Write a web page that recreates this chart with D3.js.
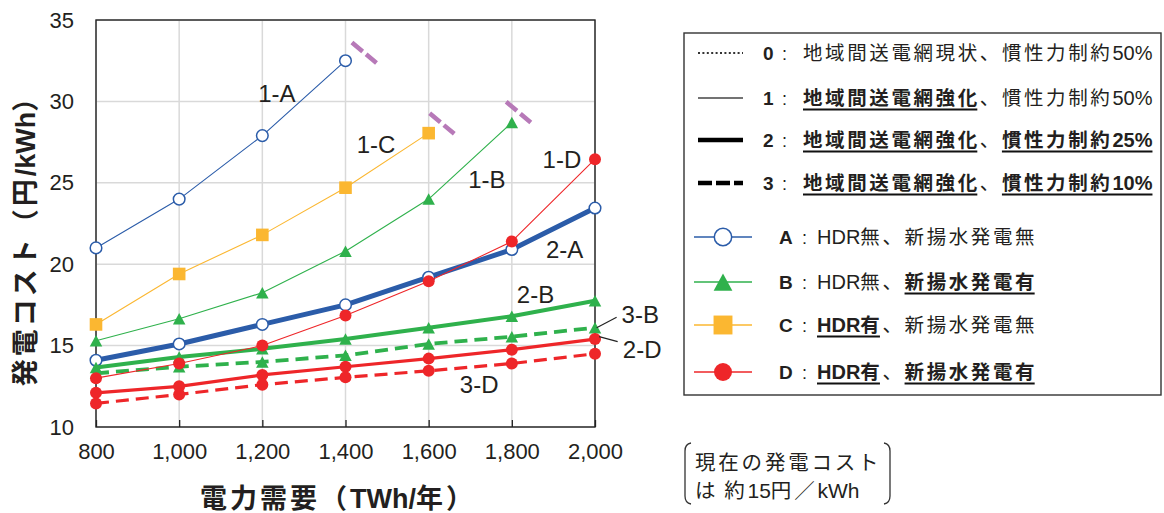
<!DOCTYPE html>
<html><head><meta charset="utf-8">
<script src="https://cdn.jsdelivr.net/npm/d3@7/dist/d3.min.js"></script>
<style>body{margin:0;background:#fff;overflow:hidden}</style>
</head><body><svg id="c" width="1164" height="513"></svg>
<script>
// ---------- data ----------
const demand = [800, 1000, 1200, 1400, 1600, 1800, 2000];
const cost1A = [21.0, 24.0, 27.9, 32.5];
const cost1B = [15.3, 16.65, 18.25, 20.8, 24.0, 28.7];
const cost1C = [16.3, 19.4, 21.8, 24.7, 28.05];
const cost1D = [13.0, 13.9, 15.0, 16.85, 18.95, 21.4, 26.45];
const cost2A = [14.1, 15.1, 16.3, 17.5, 19.2, 20.9, 23.45];
const cost2B = [13.65, 14.3, 14.8, 15.4, 16.1, 16.8, 17.75];
const cost3B = [13.3, 13.7, 14.0, 14.4, 15.1, 15.55, 16.1];
const cost2D = [12.1, 12.5, 13.2, 13.7, 14.2, 14.75, 15.4];
const cost3D = [11.45, 12.0, 12.6, 13.05, 13.45, 13.9, 14.5];
const xTicks = [800, 1000, 1200, 1400, 1600, 1800, 2000];
const yTicks = [10, 15, 20, 25, 30, 35];
const seriesLabels = ['1-A','1-B','1-C','1-D','2-A','2-B','3-B','2-D','3-D'];
// label anchor positions (data units)
const labelX = [1190, 1695, 1427, 1874, 1882, 1812, 2064, 2067, 1675];
const labelY = [29.96, 24.66, 26.81, 25.89, 20.36, 17.64, 16.37, 14.22, 12.11];
// break marks (data units) after truncated series
const breakX = [1445, 1632, 1816];
const breakY = [32.99, 28.64, 29.34];
const legendKeys1 = ['0','1','2','3'];
const legendParts1 = [
  [['地域間送電網現状、慣性力制約50%',0]],
  [['地域間送電網強化',1],['、慣性力制約50%',0]],
  [['地域間送電網強化',1],['、',0],['慣性力制約25%',1]],
  [['地域間送電網強化',1],['、',0],['慣性力制約10%',1]]
];
const legendKeys2 = ['A','B','C','D'];
const legendParts2 = [
  [['HDR無、新揚水発電無',0]],
  [['HDR無、',0],['新揚水発電有',1]],
  [['HDR有',1],['、新揚水発電無',0]],
  [['HDR有',1],['、',0],['新揚水発電有',1]]
];
const noteLines = ['現在の発電コスト', 'は 約15円／kWh'];
const xTitle = '電力需要（TWh/年）';
const yTitle = '発電コスト（円/kWh）';

// ---------- styles ----------
const C = {blue:'#2b5ca9', green:'#2fb14c', orange:'#fbb731', red:'#ee2629', purple:'#b779b8', text:'#231f20'};
const FONT = '"Liberation Sans", Arial, "Noto Sans CJK JP", sans-serif';
const series = [
  {vals:cost2A, color:C.blue,  w:5,   dash:null,  mk:'open'},
  {vals:cost2B, color:C.green, w:4,   dash:null,  mk:'tri'},
  {vals:cost3B, color:C.green, w:3.8, dash:'13 7', mk:'tri'},
  {vals:cost2D, color:C.red,   w:3.2, dash:null,  mk:'dot'},
  {vals:cost3D, color:C.red,   w:3.2, dash:'13 7', mk:'dot'},
  {vals:cost1A, color:C.blue,  w:1.1, dash:null,  mk:'open'},
  {vals:cost1C, color:C.orange,w:1.1, dash:null,  mk:'sq'},
  {vals:cost1B, color:C.green, w:1.1, dash:null,  mk:'tri'},
  {vals:cost1D, color:C.red,   w:1.1, dash:null,  mk:'dot'}
];

const svg = d3.select('#c').style('font-family', FONT);
const x = d3.scaleLinear().domain([800, 2000]).range([96, 595]);
const y = d3.scaleLinear().domain([10, 35]).range([427, 20]);

// mixed text: ASCII runs tight, CJK runs letter-spaced
function mixed(textSel, str, latinSize, cjkSize, ls) {
  const runs = str.match(/[\x20-\x7E]+|[^\x20-\x7E]+/g) || [];
  runs.forEach(r => {
    const ascii = /^[\x20-\x7E]+$/.test(r);
    textSel.append('tspan').attr('font-size', ascii ? latinSize : cjkSize)
      .style('letter-spacing', ascii ? '0px' : ls + 'px').text(r);
  });
  return textSel;
}

// gridlines
svg.append('g').selectAll('line').data(yTicks).join('line')
  .attr('x1', 96).attr('x2', 595).attr('y1', d => y(d)).attr('y2', d => y(d))
  .attr('stroke', '#d9d9d9').attr('stroke-width', 1.5);
svg.append('g').selectAll('line').data(xTicks).join('line')
  .attr('y1', 20).attr('y2', 427).attr('x1', d => x(d)).attr('x2', d => x(d))
  .attr('stroke', '#d9d9d9').attr('stroke-width', 1.5);

// axes
const xAxis = d3.axisBottom(x).tickValues(xTicks).tickSizeInner(-7).tickSizeOuter(0).tickPadding(16)
  .tickFormat(d3.format(','));
const gx = svg.append('g').attr('transform', 'translate(0,427)').call(xAxis);
gx.selectAll('text').attr('font-size', 22).attr('fill', C.text).attr('font-family', FONT).attr('dy', '0.72em');
gx.selectAll('line').attr('stroke', '#222').attr('stroke-width', 1.3);
gx.select('.domain').remove();
const yAxis = d3.axisLeft(y).tickValues(yTicks).tickSize(0).tickPadding(22);
const gy = svg.append('g').attr('transform', 'translate(96,0)').call(yAxis);
gy.selectAll('text').attr('font-size', 22).attr('fill', C.text).attr('font-family', FONT);
gy.select('.domain').remove();

// box
svg.append('rect').attr('x', 96).attr('y', 20).attr('width', 499).attr('height', 407)
  .attr('fill', 'none').attr('stroke', '#222').attr('stroke-width', 1.4);

// series
const line = d3.line().x((d, i) => x(demand[i])).y(d => y(d));
function marker(g, mk, color, cx, cy, s) {
  if (mk === 'open') g.append('circle').attr('cx', cx).attr('cy', cy).attr('r', 5.8*s)
    .attr('fill', '#fff').attr('stroke', color).attr('stroke-width', 1.5);
  else if (mk === 'dot') g.append('circle').attr('cx', cx).attr('cy', cy).attr('r', 6*s).attr('fill', color);
  else if (mk === 'sq') g.append('rect').attr('x', cx - 6.3*s).attr('y', cy - 6.3*s)
    .attr('width', 12.6*s).attr('height', 12.6*s).attr('fill', color);
  else if (mk === 'tri') {
    const w = 12.5*s, h = 11.5*s;
    g.append('path').attr('d', `M${cx},${cy - h/2}L${cx + w/2},${cy + h/2}L${cx - w/2},${cy + h/2}Z`).attr('fill', color);
  }
}
series.forEach(s => {
  const g = svg.append('g');
  g.append('path').datum(s.vals).attr('d', line).attr('fill', 'none')
    .attr('stroke', s.color).attr('stroke-width', s.w)
    .attr('stroke-dasharray', s.dash).attr('stroke-linejoin', 'round');
  s.vals.forEach((v, i) => marker(g, s.mk, s.color, x(demand[i]), y(v), 1));
});

// break marks
breakX.forEach((bx, i) => {
  const cx = x(bx), cy = y(breakY[i]);
  svg.append('line').attr('x1', cx - 12.3).attr('y1', cy - 10.3).attr('x2', cx + 12.3).attr('y2', cy + 10.3)
    .attr('stroke', C.purple).attr('stroke-width', 4.5).attr('stroke-dasharray', '14 4.5');
});

// series labels
seriesLabels.forEach((t, i) => {
  svg.append('text').attr('x', x(labelX[i])).attr('y', y(labelY[i])).text(t)
    .attr('font-size', 24).attr('fill', C.text);
});
// leader lines
svg.append('line').attr('x1', x(2004)).attr('y1', y(16.1)).attr('x2', x(2052)).attr('y2', y(16.74))
  .attr('stroke', '#222').attr('stroke-width', 1.2);
svg.append('line').attr('x1', x(2010)).attr('y1', y(15.55)).attr('x2', x(2054.5)).attr('y2', y(15.24))
  .attr('stroke', '#222').attr('stroke-width', 1.2);

// axis titles
mixed(svg.append('text').attr('transform', 'translate(35,234) rotate(-90)').attr('text-anchor', 'middle')
  .attr('font-weight', 700).attr('fill', C.text), yTitle, 27, 27, 3);
mixed(svg.append('text').attr('x', 338).attr('y', 508).attr('text-anchor', 'middle')
  .attr('font-weight', 700).attr('fill', C.text), xTitle, 27, 27, 3);

// legend
const lg = svg.append('g');
lg.append('rect').attr('x', 684).attr('y', 33).attr('width', 477).attr('height', 362)
  .attr('fill', '#fff').attr('stroke', '#333').attr('stroke-width', 1.4);
function legendRow(keyTxt, keyX, colonX, textX, yb, parts) {
  lg.append('text').attr('x', keyX).attr('y', yb).attr('font-size', 19).attr('font-weight', 700)
    .attr('fill', C.text).text(keyTxt);
  lg.append('text').attr('x', colonX).attr('y', yb).attr('font-size', 18).attr('fill', C.text).text(':');
  let cx = textX;
  parts.forEach(([t, b]) => {
    const el = mixed(lg.append('text').attr('x', cx).attr('y', yb)
      .attr('font-weight', b ? 700 : 400).attr('fill', C.text), t, 20, 19.5, 2.6);
    const len = el.node().getComputedTextLength();
    const endsCjk = /[^\x20-\x7E]$/.test(t);
    if (b) lg.append('line').attr('x1', cx).attr('x2', cx + len - (endsCjk ? 2.5 : 0)).attr('y1', yb + 4.5).attr('y2', yb + 4.5)
      .attr('stroke', '#111').attr('stroke-width', 2);
    cx += len;
  });
}
const rowY1 = [53, 98, 140, 183];
const lineSamples = [
  {w:2, dash:'2 2.4', color:'#333'},
  {w:1.3, dash:null, color:'#444'},
  {w:4.6, dash:null, color:'#000'},
  {w:4.6, dash:'14 4', color:'#000'}
];
legendKeys1.forEach((k, i) => {
  const ls = lineSamples[i];
  lg.append('line').attr('x1', 698).attr('x2', 743).attr('y1', rowY1[i]).attr('y2', rowY1[i])
    .attr('stroke', ls.color).attr('stroke-width', ls.w).attr('stroke-dasharray', ls.dash);
  legendRow(k, 763, 782, 803, rowY1[i] + 7, legendParts1[i]);
});
const rowY2 = [237, 282, 325, 372];
const legendMk = [series[5], series[7], series[6], series[8]];
legendKeys2.forEach((k, i) => {
  const s = legendMk[i];
  lg.append('line').attr('x1', 694).attr('x2', 752).attr('y1', rowY2[i]).attr('y2', rowY2[i])
    .attr('stroke', s.color).attr('stroke-width', 1.6);
  marker(lg, s.mk, s.color, 723, rowY2[i], 1.5);
  legendRow(k, 779, 802, 817, rowY2[i] + 7, legendParts2[i]);
});

// note
const ng = svg.append('g');
noteLines.forEach((t, i) => {
  mixed(ng.append('text').attr('x', 695).attr('y', 470 + i * 28).attr('fill', C.text), t, 21, 20.5, 2.8);
});
ng.append('path').attr('d', 'M691,443 Q685,444 685,451 L685,496 Q685,503 691,504')
  .attr('fill', 'none').attr('stroke', '#333').attr('stroke-width', 1.3);
ng.append('path').attr('d', 'M884,443 Q890,444 890,451 L890,496 Q890,503 884,504')
  .attr('fill', 'none').attr('stroke', '#333').attr('stroke-width', 1.3);
</script></body></html>
